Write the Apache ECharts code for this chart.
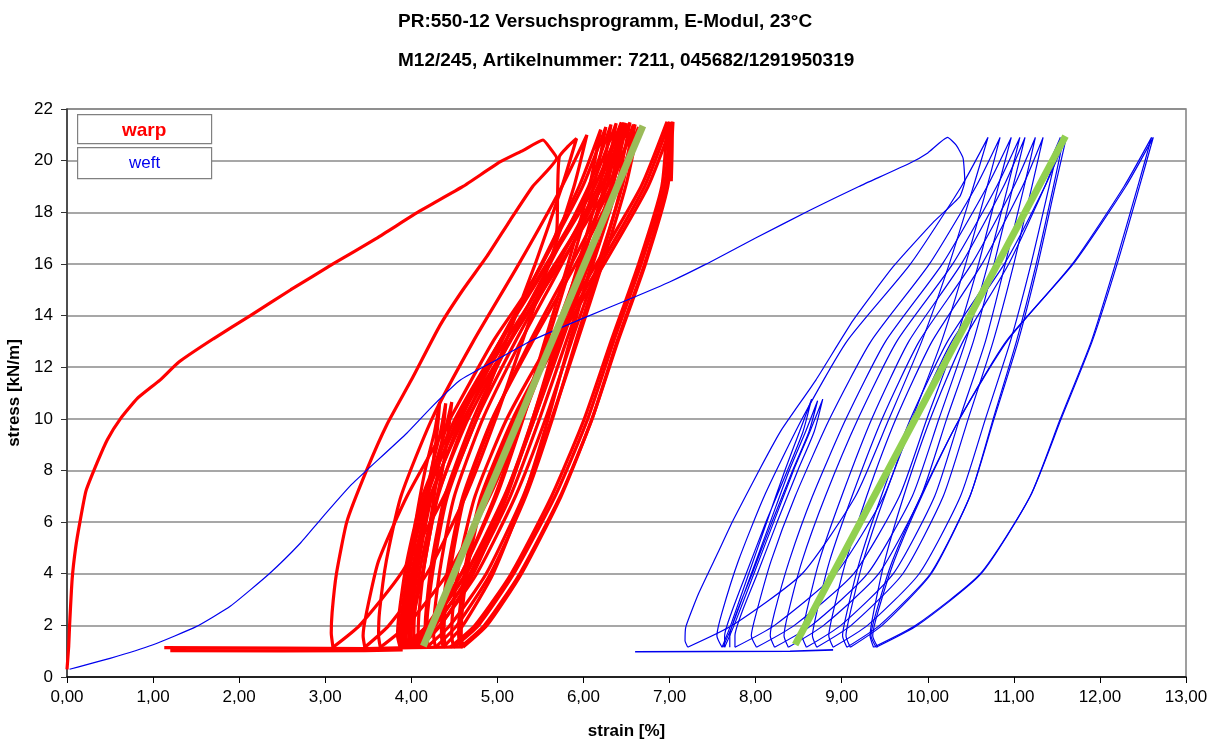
<!DOCTYPE html>
<html><head><meta charset="utf-8">
<script src="https://cdn.jsdelivr.net/npm/echarts/dist/echarts.min.js"></script>
<style>html,body{margin:0;padding:0;background:#fff}#c{width:1211px;height:740px}</style>
</head><body><div id="c"></div>
<script>
const titleLines = ['PR:550-12 Versuchsprogramm, E-Modul, 23°C', 'M12/245, Artikelnummer: 7211, 045682/1291950319'];
const xAxisName = 'strain [%]';
const yAxisName = 'stress [kN/m]';
const seriesNames = ['warp', 'weft'];

// warp (red) : first loading + first unloading
const warpInitial = [[0.00,0.30],[0.02,1.2],[0.03,2.0],[0.06,3.8],[0.10,5.0],[0.15,6.0],[0.22,7.2],[0.35,8.3],[0.47,9.2],[0.62,10.0],[0.82,10.8],[1.08,11.5],[1.30,12.2],[1.70,13.1],[2.13,14.0],[2.60,15.0],[3.09,16.0],[3.60,17.0],[4.10,18.05],[4.60,19.0],[5.03,19.95],[5.30,20.4],[5.53,20.8],[5.62,20.45],[5.69,20.1],[5.41,19.0],[5.15,17.7],[4.88,16.3],[4.60,15.0],[4.33,13.6],[4.00,11.5],[3.72,9.8],[3.48,8.0],[3.25,6.0],[3.13,4.0],[3.08,2.5],[3.07,1.7],[3.09,1.15]];
const warpBaseline = [[1.13,1.14],[2.50,1.12],[3.46,1.10],[4.00,1.14],[4.60,1.17]];
const warpBaseline2 = [[1.20,1.02],[2.50,1.01],[3.46,1.02],[3.90,1.05]];
const warpLoops = [
  [[3.09,1.15],[3.40,2],[3.88,4],[4.38,7],[4.76,10],[5.10,13],[5.44,16],[5.75,19],[5.92,20.86],[5.82,20.55],[5.72,20.15],[5.70,18.8],[5.69,17.3],[5.35,15.0],[4.95,13.0],[4.45,10.0],[3.95,7.0],[3.62,4.5],[3.48,2.5],[3.44,1.6],[3.46,1.15]],
  [[3.46,1.15],[3.74,2],[4.18,4],[4.63,7],[4.98,10],[5.29,13],[5.60,16],[5.89,19],[6.04,21.0],[5.75,19],[5.25,16],[4.72,13],[4.24,10],[3.88,7],[3.71,4.5],[3.63,2.5],[3.62,1.6],[3.64,1.15]],
  [[3.64,1.15],[3.95,2],[4.42,4],[4.91,7],[5.29,10],[5.63,13],[5.96,16],[6.27,19],[6.44,21.48],[6.13,19],[5.59,16],[5.03,13],[4.51,10],[4.13,7],[3.95,4.5],[3.86,2.5],[3.84,1.6],[3.87,1.15]],
  [[3.87,1.15],[3.93,2],[4.05,4],[4.15,6],[4.24,8],[4.30,9.5],[4.33,10.65],[4.27,9.5],[4.16,8],[4.05,6],[3.96,4],[3.91,2.5],[3.89,1.6],[3.90,1.15]],
  [[3.90,1.15],[3.97,2],[4.13,4],[4.24,6],[4.36,8],[4.43,9.5],[4.47,10.65],[4.39,9.5],[4.26,8],[4.13,6],[4.03,4],[3.97,2.5],[3.94,1.6],[3.95,1.15]],
  [[3.95,1.15],[4.00,2],[4.13,4],[4.22,6],[4.31,8],[4.37,9.5],[4.40,10.6],[4.34,9.5],[4.23,8],[4.13,6],[4.04,4],[3.99,2.5],[3.97,1.6],[3.98,1.15]],
  [[3.98,1.15],[4.26,2],[4.70,4],[5.15,7],[5.49,10],[5.80,13],[6.11,16],[6.39,19],[6.54,21.48],[6.22,19],[5.67,16],[5.09,13],[4.56,10],[4.16,7],[3.98,4.5],[3.89,2.5],[3.87,1.6],[3.90,1.15]],
  [[3.90,1.15],[4.19,2],[4.63,4],[5.08,7],[5.43,10],[5.75,13],[6.06,16],[6.34,19],[6.50,21.45],[6.21,19],[5.69,16],[5.15,13],[4.66,10],[4.30,7],[4.12,4.5],[4.04,2.5],[4.03,1.6],[4.05,1.15]],
  [[4.05,1.15],[4.33,2],[4.76,4],[5.21,7],[5.56,10],[5.86,13],[6.17,16],[6.45,19],[6.60,21.4],[6.28,19],[5.73,16],[5.14,13],[4.61,10],[4.22,7],[4.03,4.5],[3.94,2.5],[3.92,1.6],[3.95,1.15]],
  [[3.95,1.15],[4.20,2],[4.58,4],[4.97,7],[5.28,10],[5.55,13],[5.82,16],[6.07,19],[6.20,21.2],[5.95,19],[5.51,16],[5.05,13],[4.63,10],[4.31,7],[4.16,4.5],[4.09,2.5],[4.08,1.6],[4.10,1.15]],
  [[4.10,1.15],[4.34,2],[4.72,4],[5.11,7],[5.41,10],[5.68,13],[5.94,16],[6.19,19],[6.32,21.4],[6.06,19],[5.61,16],[5.14,13],[4.72,10],[4.39,7],[4.24,4.5],[4.17,2.5],[4.16,1.6],[4.18,1.15]],
  [[4.18,1.15],[4.45,2],[4.87,4],[5.30,7],[5.63,10],[5.93,13],[6.22,16],[6.49,19],[6.64,21.3],[6.37,19],[5.91,16],[5.41,13],[4.94,10],[4.60,7],[4.44,4.5],[4.36,2.5],[4.35,1.6],[4.37,1.15]],
  [[4.37,1.15],[4.60,2],[4.95,4],[5.31,7],[5.59,10],[5.84,13],[6.09,16],[6.32,19],[6.44,21.45],[6.17,19],[5.70,16],[5.21,13],[4.76,10],[4.42,7],[4.27,4.5],[4.19,2.5],[4.18,1.6],[4.20,1.15]],
  [[3.92,1.15],[4.18,2],[4.58,4],[4.99,7],[5.30,10],[5.58,13],[5.86,16],[6.12,19],[6.26,21.3],[5.99,19],[5.52,16],[5.03,13],[4.58,10],[4.24,7],[4.09,4.5],[4.01,2.5],[4.00,1.6],[4.02,1.15]],
  [[4.02,1.15],[4.28,2],[4.68,4],[5.09,7],[5.41,10],[5.70,13],[5.98,16],[6.24,19],[6.38,21.45],[6.09,19],[5.57,16],[5.03,13],[4.54,10],[4.18,7],[4.00,4.5],[3.92,2.5],[3.91,1.6],[3.93,1.15]],
  [[3.93,1.15],[4.21,2],[4.64,4],[5.09,7],[5.43,10],[5.73,13],[6.04,16],[6.32,19],[6.47,21.48],[6.21,19],[5.75,16],[5.27,13],[4.83,10],[4.50,7],[4.35,4.5],[4.27,2.5],[4.26,1.6],[4.28,1.15]],
  [[4.28,1.15],[4.53,2],[4.92,4],[5.33,7],[5.64,10],[5.91,13],[6.19,16],[6.44,19],[6.58,21.4],[6.32,19],[5.86,16],[5.38,13],[4.95,10],[4.62,7],[4.47,4.5],[4.39,2.5],[4.38,1.6],[4.40,1.15]],
  [[4.45,1.15],[4.74,2],[5.16,4],[5.63,7],[6.01,10],[6.32,13],[6.64,16],[6.91,19],[6.97,21.5],[6.67,19],[6.15,16],[5.61,13],[5.11,10],[4.74,7],[4.56,4.5],[4.48,2.5],[4.47,1.6],[4.49,1.15]],
  [[4.49,1.15],[4.78,2],[5.19,4],[5.67,7],[6.05,10],[6.35,13],[6.67,16],[6.94,19],[7.00,21.5],[6.71,19],[6.20,16],[5.66,13],[5.18,10],[4.81,7],[4.64,4.5],[4.56,2.5],[4.55,1.6],[4.57,1.15]],
  [[4.57,1.15],[4.85,2],[5.26,4],[5.73,7],[6.10,10],[6.40,13],[6.72,16],[6.98,19],[7.04,21.5],[6.75,19],[6.24,16],[5.70,13],[5.21,10],[4.84,7],[4.67,4.5],[4.59,2.5],[4.58,1.6],[4.60,1.15]],
  [[4.60,1.15],[4.88,2],[5.28,4],[5.74,7],[6.10,10],[6.39,13],[6.71,16],[6.96,19],[7.02,21.45],[7.03,20.5],[7.02,19.2]]
];

// weft (blue)
const weftInitial = [[0.03,0.30],[0.50,0.72],[1.00,1.25],[1.50,1.95],[1.90,2.75],[2.35,4.0],[2.71,5.18],[2.94,6.08],[3.29,7.4],[3.48,8.0],[3.95,9.45],[4.25,10.5],[4.57,11.5],[5.00,12.3],[5.41,13.05],[6.00,13.9],[6.58,14.7],[7.00,15.3],[7.43,16.0],[8.00,17.0],[8.63,18.08],[9.20,19.0],[9.79,19.9],[10.00,20.3],[10.23,20.9],[10.33,20.6],[10.41,20.1],[10.43,19.2],[10.37,18.6],[10.06,17.6],[9.60,15.9],[9.13,13.8],[8.70,11.5],[8.30,9.57],[8.04,8.0],[7.74,6.08],[7.56,4.8],[7.34,3.25],[7.19,1.95],[7.18,1.4],[7.21,1.16]];
const weftBaseline = [[6.60,0.98],[7.50,0.99],[8.40,1.00],[8.90,1.05]];
const weftLoops = [
  [[7.21,1.15],[7.73,2],[8.54,4],[9.16,7],[9.55,10],[9.93,13],[10.25,16],[10.53,19],[10.70,20.9],[10.39,19],[9.80,16],[9.06,13],[8.54,10],[8.10,7],[7.80,4.5],[7.61,2.5],[7.55,1.6],[7.61,1.15]],
  [[7.61,1.15],[7.71,2],[7.92,4],[8.13,6],[8.34,8],[8.51,9.5],[8.65,10.76],[8.55,9.5],[8.37,8],[8.12,6],[7.89,4],[7.72,2.5],[7.64,1.6],[7.64,1.15]],
  [[7.62,1.15],[7.73,2],[7.95,4],[8.17,6],[8.39,8],[8.58,9.5],[8.72,10.7],[8.62,9.5],[8.43,8],[8.19,6],[7.96,4],[7.78,2.5],[7.70,1.6],[7.70,1.15]],
  [[7.64,1.15],[7.75,2],[7.98,4],[8.21,6],[8.44,8],[8.63,9.5],[8.78,10.76],[8.68,9.5],[8.49,8],[8.25,6],[8.02,4],[7.84,2.5],[7.76,1.6],[7.76,1.15]],
  [[7.76,1.15],[8.22,2],[8.93,4],[9.49,7],[9.82,10],[10.16,13],[10.44,16],[10.69,19],[10.84,20.9],[10.56,19],[10.02,16],[9.34,13],[8.86,10],[8.46,7],[8.18,4.5],[8.01,2.5],[7.95,1.6],[8.01,1.15]],
  [[8.01,1.15],[8.45,2],[9.14,4],[9.67,7],[9.99,10],[10.32,13],[10.59,16],[10.82,19],[10.97,20.9],[10.69,19],[10.17,16],[9.51,13],[9.05,10],[8.66,7],[8.39,4.5],[8.22,2.5],[8.17,1.6],[8.22,1.15]],
  [[8.22,1.15],[8.65,2],[9.30,4],[9.82,7],[10.13,10],[10.44,13],[10.70,16],[10.93,19],[11.07,20.9],[10.80,19],[10.29,16],[9.64,13],[9.19,10],[8.81,7],[8.54,4.5],[8.38,2.5],[8.33,1.6],[8.38,1.15]],
  [[8.38,1.15],[8.79,2],[9.43,4],[9.92,7],[10.22,10],[10.53,13],[10.77,16],[10.99,19],[11.13,20.9],[10.88,19],[10.39,16],[9.78,13],[9.35,10],[9.00,7],[8.74,4.5],[8.59,2.5],[8.54,1.6],[8.59,1.15]],
  [[8.59,1.15],[8.99,2],[9.60,4],[10.08,7],[10.37,10],[10.67,13],[10.90,16],[11.12,19],[11.25,20.9],[11.00,19],[10.51,16],[9.90,13],[9.47,10],[9.12,7],[8.86,4.5],[8.71,2.5],[8.66,1.6],[8.71,1.15]],
  [[8.71,1.15],[9.11,2],[9.71,4],[10.18,7],[10.47,10],[10.76,13],[11.00,16],[11.21,19],[11.34,20.9],[11.10,19],[10.63,16],[10.05,13],[9.63,10],[9.29,7],[9.05,4.5],[8.90,2.5],[8.85,1.6],[8.90,1.15]],
  [[8.90,1.15],[9.30,2],[9.90,4],[10.38,7],[10.67,10],[10.96,13],[11.20,16],[11.41,19],[11.54,20.9],[11.29,19],[10.82,16],[10.23,13],[9.80,10],[9.46,7],[9.21,4.5],[9.06,2.5],[9.01,1.6],[9.06,1.15]],
  [[9.06,1.15],[9.44,2],[10.03,4],[10.49,7],[10.77,10],[11.05,13],[11.28,16],[11.48,19],[11.61,20.9],[11.36,19],[10.89,16],[10.28,13],[9.85,10],[9.50,7],[9.25,4.5],[9.10,2.5],[9.05,1.6],[9.10,1.15]],
  [[9.10,1.15],[9.47,2],[10.04,4],[10.49,7],[10.76,10],[11.03,13],[11.26,16],[11.46,19],[11.58,20.9],[11.36,19],[10.94,16],[10.41,13],[10.03,10],[9.72,7],[9.50,4.5],[9.37,2.5],[9.33,1.6],[9.37,1.15]],
  [[9.37,1.15],[9.86,2],[10.61,4],[11.19,7],[11.55,10],[11.91,13],[12.20,16],[12.46,19],[12.62,20.9],[12.30,19],[11.69,16],[10.91,13],[10.37,10],[9.92,7],[9.59,4.5],[9.40,2.5],[9.34,1.6],[9.40,1.15]],
  [[9.40,1.15],[9.88,2],[10.62,4],[11.19,7],[11.54,10],[11.90,13],[12.18,16],[12.44,19],[12.60,20.9],[12.28,19],[11.68,16],[10.92,13],[10.37,10],[9.93,7],[9.61,4.5],[9.42,2.5],[9.36,1.6],[9.42,1.15]]
];

// fitted modulus lines
const warpFit = [[4.14,1.2],[6.69,21.35]];
const weftFit = [[8.46,1.25],[11.60,20.95]];

const FONT = "'Liberation Sans', Arial, sans-serif";
const RED = '#ff0000', BLUE = '#0000ee';

function line(data, color, width, z, smooth) {
  return { type: 'line', data: data, symbol: 'none', showSymbol: false, smooth: smooth,
    lineStyle: { color: color, width: width }, z: z, silent: true, animation: false };
}

const series = [];
series.push(line(warpInitial, RED, 3.2, 2, 0.15));
series.push(line(warpBaseline, RED, 3.2, 2, 0));
series.push(line(warpBaseline2, RED, 3.2, 2, 0));
warpLoops.forEach(l => series.push(line(l, RED, 3.2, 2, 0.2)));
series.push(line(weftInitial, BLUE, 1.2, 3, 0.15));
series.push(line(weftBaseline, BLUE, 1.6, 3, 0));
weftLoops.forEach(l => series.push(line(l, BLUE, 1.2, 3, 0.2)));
series.push(line(warpFit, '#9bbb59', 7, 4, 0));
series.push(line(weftFit, '#92d050', 7, 4, 0));

const chart = echarts.init(document.getElementById('c'), null, { renderer: 'canvas' });
chart.setOption({
  animation: false,
  backgroundColor: '#fff',
  title: [
    { text: titleLines[0], left: 398, top: 12, padding: 0, textStyle: { fontFamily: FONT, fontSize: 19, fontWeight: 'bold', color: '#000' } },
    { text: titleLines[1], left: 398, top: 51, padding: 0, textStyle: { fontFamily: FONT, fontSize: 19, fontWeight: 'bold', color: '#000' } }
  ],
  grid: { left: 67, right: 25, top: 109, bottom: 63, containLabel: false, outerBoundsMode: 'none', show: true, borderColor: '#808080', borderWidth: 1.5, backgroundColor: 'transparent' },
  xAxis: {
    type: 'value', min: 0, max: 13, interval: 1,
    name: xAxisName, nameLocation: 'middle', nameGap: 46,
    nameTextStyle: { fontFamily: FONT, fontSize: 17, fontWeight: 'bold', color: '#000' },
    axisLine: { show: true, onZero: false, lineStyle: { color: '#000', width: 1.5 } },
    axisTick: { show: true, inside: false, length: 6, lineStyle: { color: '#000' } },
    axisLabel: { margin: 12, fontFamily: FONT, fontSize: 17, color: '#000', formatter: v => v.toFixed(2).replace('.', ',') },
    splitLine: { show: false }
  },
  yAxis: {
    type: 'value', min: 0, max: 22, interval: 2,
    name: yAxisName, nameLocation: 'middle', nameGap: 35, nameRotate: 90,
    nameTextStyle: { fontFamily: FONT, fontSize: 17, fontWeight: 'bold', color: '#000' },
    axisLine: { show: true, onZero: false, lineStyle: { color: '#333', width: 1.5 } },
    axisTick: { show: true, inside: false, length: 6, lineStyle: { color: '#333' } },
    axisLabel: { margin: 14, fontFamily: FONT, fontSize: 17, color: '#000' },
    splitLine: { show: true, lineStyle: { color: '#8a8a8a', width: 1.5 } }
  },
  graphic: [
    { type: 'rect', left: 77, top: 114, z: 10, shape: { width: 134, height: 29 }, style: { fill: '#fff', stroke: '#808080', lineWidth: 1.2 } },
    { type: 'text', left: 122, top: 121, z: 11, style: { text: seriesNames[0], fill: RED, font: "bold 19px " + FONT } },
    { type: 'rect', left: 77, top: 147, z: 10, shape: { width: 134, height: 31 }, style: { fill: '#fff', stroke: '#808080', lineWidth: 1.2 } },
    { type: 'text', left: 129, top: 155, z: 11, style: { text: seriesNames[1], fill: BLUE, font: "17px " + FONT } }
  ],
  series: series
});
</script>
</body></html>
